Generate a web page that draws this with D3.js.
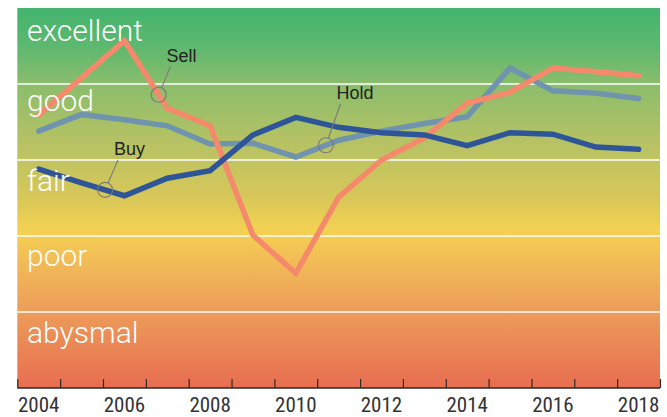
<!DOCTYPE html>
<html>
<head>
<meta charset="utf-8">
<script src="https://cdn.jsdelivr.net/npm/d3@7"></script>
<style>
  html, body { margin: 0; padding: 0; background: #fff; }
  svg { display: block; }
</style>
</head>
<body>
<svg id="chart" width="667" height="417"></svg>
<script>
// ---- data ----
const years = [2004, 2005, 2006, 2007, 2008, 2009, 2010, 2011, 2012, 2013, 2014, 2015, 2016, 2017, 2018];
const tickLabels = ["2004", "2006", "2008", "2010", "2012", "2014", "2016", "2018"];
const bands = ["abysmal", "poor", "fair", "good", "excellent"];
const sellValues = [3.59, 4.08, 4.57, 3.68, 3.45, 2.01, 1.51, 2.51, 3.00, 3.29, 3.75, 3.89, 4.21, 4.16, 4.11];
const holdValues = [3.38, 3.60, 3.53, 3.45, 3.21, 3.22, 3.04, 3.26, 3.38, 3.48, 3.57, 4.21, 3.91, 3.88, 3.81];
const buyValues  = [2.88, 2.70, 2.53, 2.76, 2.86, 3.33, 3.56, 3.43, 3.36, 3.33, 3.19, 3.36, 3.34, 3.17, 3.14];
const seriesNames = ["Sell", "Hold", "Buy"];

// ---- layout ----
const svg = d3.select("#chart");
const pLeft = 17.3, pRight = 660, pTop = 8, pBottom = 388;

const x = d3.scaleLinear().domain([2004, 2019]).range([pLeft, pRight]);
const xc = d => x(d + 0.5);
const y = d3.scaleLinear().domain([0, 5]).range([pBottom, pTop]);

// gradient background
const defs = svg.append("defs");
const grad = defs.append("linearGradient").attr("id", "bg")
  .attr("x1", 0).attr("y1", 0).attr("x2", 0).attr("y2", 1);
[[0, "#43b46e"], [0.1, "#5db86f"], [0.2, "#8abd6c"], [0.35, "#b5c264"],
 [0.5, "#d8c759"], [0.585, "#f4d152"], [0.66, "#f2bd56"], [0.8, "#ec9c5a"], [1, "#e86d50"]]
  .forEach(([o, c]) => grad.append("stop").attr("offset", o).attr("stop-color", c));

svg.append("rect")
  .attr("x", pLeft).attr("y", pTop)
  .attr("width", pRight - pLeft).attr("height", pBottom - pTop)
  .attr("fill", "url(#bg)");

// band separators
svg.append("g").selectAll("line")
  .data(d3.range(1, bands.length))
  .join("line")
  .attr("x1", pLeft).attr("x2", pRight)
  .attr("y1", d => y(d)).attr("y2", d => y(d))
  .attr("stroke", "#fff").attr("stroke-width", 1.6);

// lines
const line = d3.line().x((d, i) => xc(years[i])).y(d => y(d));
const series = [
  { name: "Hold", values: holdValues, color: "#7093ae" },
  { name: "Sell", values: sellValues, color: "#f5896b" },
  { name: "Buy",  values: buyValues,  color: "#2f5599" }
];
svg.append("g").selectAll("path")
  .data(series)
  .join("path")
  .attr("d", d => line(d.values))
  .attr("fill", "none")
  .attr("stroke", d => d.color)
  .attr("stroke-width", 5.5)
  .attr("stroke-linecap", "round")
  .attr("stroke-linejoin", "miter");

// band labels (drawn over the lines)
const bandDy = { excellent: 33, good: 27, fair: 31, poor: 30, abysmal: 31 };
svg.append("g").selectAll("text")
  .data(bands)
  .join("text")
  .attr("x", 27)
  .attr("y", (d, i) => y(i + 1) + bandDy[d])
  .attr("fill", "#fff")
  .attr("font-family", "Roboto, 'Liberation Sans', sans-serif")
  .attr("font-weight", 300)
  .attr("font-size", 30)
  .text(d => d);

// annotations: point on the line (fractional year index), label offset
const annos = [
  { name: "Sell", t: 2.8,  lx: 166.5, ly: 61.5 },
  { name: "Hold", t: 6.7,  lx: 336.5, ly: 99 },
  { name: "Buy",  t: 1.55, lx: 114,   ly: 155 }
];
const valueAt = (vals, t) => {
  const i = Math.floor(t), f = t - i;
  return vals[i] + (vals[i + 1] - vals[i]) * f;
};
const seriesByName = { Sell: sellValues, Hold: holdValues, Buy: buyValues };
const ag = svg.append("g");
annos.forEach(a => {
  const cx = xc(years[0] + a.t);
  const cy = y(valueAt(seriesByName[a.name], a.t));
  const r = 7.5;
  const tx = a.lx + 4, ty = a.ly + 5;
  const ang = Math.atan2(ty - cy, tx - cx);
  ag.append("circle").attr("cx", cx).attr("cy", cy).attr("r", r)
    .attr("fill", "none").attr("stroke", "#7a7a7a").attr("stroke-width", 1.1);
  ag.append("line")
    .attr("x1", cx + r * Math.cos(ang)).attr("y1", cy + r * Math.sin(ang))
    .attr("x2", tx).attr("y2", ty)
    .attr("stroke", "#7a7a7a").attr("stroke-width", 1.1);
  ag.append("text").attr("x", a.lx).attr("y", a.ly)
    .attr("font-family", "'Liberation Sans', Arial, sans-serif")
    .attr("font-size", 18).attr("fill", "#222")
    .text(a.name);
});

// x axis
const axis = d3.axisBottom(x)
  .tickValues(d3.range(2004, 2020))
  .tickSize(-9)
  .tickFormat("");
const ax = svg.append("g").attr("transform", `translate(0,${pBottom})`).call(axis);
ax.select(".domain").attr("stroke", "#2a2a2a").attr("stroke-width", 1.4)
  .attr("d", `M${pLeft},0H${pRight}`);
ax.selectAll(".tick line").attr("stroke", "#2a2a2a").attr("stroke-width", 1.2);

svg.append("g").selectAll("text")
  .data(tickLabels)
  .join("text")
  .attr("x", d => xc(+d))
  .attr("y", 412.3)
  .attr("text-anchor", "middle")
  .attr("font-family", "'Liberation Sans Narrow', 'Roboto Condensed', 'Liberation Sans', sans-serif")
  .attr("font-size", 21)
  .attr("fill", "#333")
  .text(d => d);
</script>
</body>
</html>
